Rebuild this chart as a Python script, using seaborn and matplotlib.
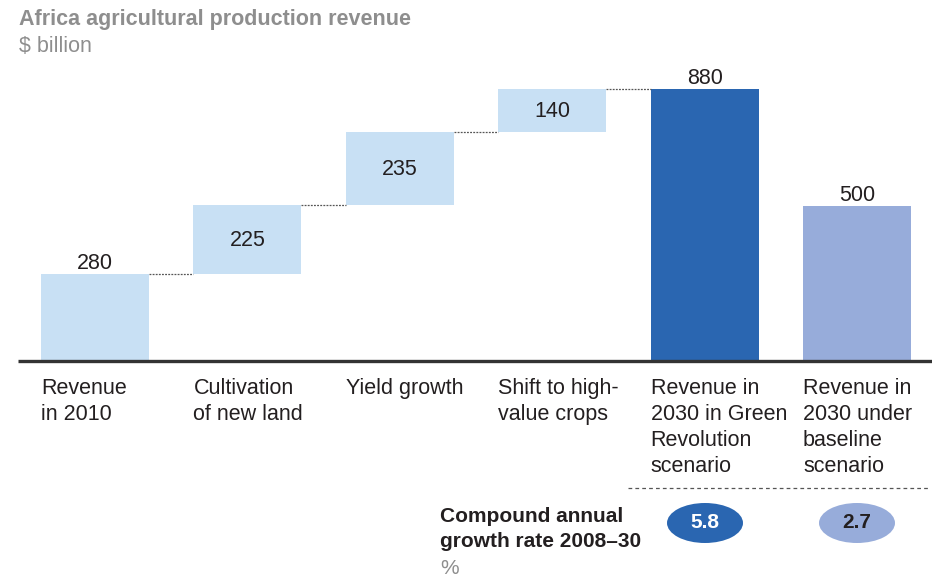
import numpy as np
import pandas as pd
import seaborn as sns
import matplotlib.pyplot as plt
from matplotlib.patches import Ellipse

sns.set_theme(style="white")
plt.rcParams["font.family"] = ["Liberation Sans", "DejaVu Sans"]

# Waterfall data ($ billion)
categories = [
    "Revenue\nin 2010",
    "Cultivation\nof new land",
    "Yield growth",
    "Shift to high-\nvalue crops",
    "Revenue in\n2030 in Green\nRevolution\nscenario",
    "Revenue in\n2030 under\nbaseline\nscenario",
]
values = [280, 225, 235, 140, 880, 500]
kinds = ["total", "step", "step", "step", "total", "total"]
growth_labels = ["5.8", "2.7"]

# Bottoms of the floating bars are the running total
bases = []
running = 0
for v, k in zip(values, kinds):
    if k == "step":
        bases.append(running)
        running += v
    else:
        bases.append(0)
        if running == 0:
            running = v
df = pd.DataFrame({"category": categories, "value": values, "base": bases})

LIGHT = "#c8e0f4"
DARK = "#2a66b1"
PERI = "#97acda"
INK = "#231f20"
GREY = "#8e8e8e"
bar_colors = [LIGHT, LIGHT, LIGHT, LIGHT, DARK, PERI]

W, H = 932, 579
fig = plt.figure(figsize=(W / 100, H / 100), dpi=100)
ax = fig.add_axes([0, 0, 1, 1])

# pixel geometry of the plot
X0, DX = 95.0, 152.4          # centre of first bar, spacing
Y0, SY = 361.0, 272.0 / 880   # baseline row, pixels per $ billion
BW = 108 / DX                 # bar width in category units


def fx(px):
    return px / W


def fy(py):
    return 1 - py / H


sns.barplot(data=df, x="category", y="value", bottom=df["base"].values,
            width=BW, ax=ax, order=categories, color=LIGHT,
            edgecolor="none", linewidth=0, saturation=1)
for patch, c in zip(ax.patches, bar_colors):
    patch.set_facecolor(c)

ax.set_xlim(-X0 / DX, (W - X0) / DX)
ax.set_ylim((Y0 - H) / SY, Y0 / SY)
ax.axis("off")

# baseline
ax.plot([(18 - X0) / DX, (W - X0) / DX], [0, 0], color="#333333", lw=2.4,
        solid_capstyle="butt", zorder=3)

# dotted connectors between consecutive bars
for i in range(4):
    level = bases[i] + values[i]
    ax.plot([i + BW / 2, i + 1 - BW / 2], [level, level], color="#555555",
            lw=0.9, ls=(0, (1.5, 1)), zorder=3)

# value labels
for i, (v, b, k) in enumerate(zip(values, bases, kinds)):
    if k == "step":
        ax.text(i, b + v / 2 - 1 / SY, f"{v}", ha="center", va="center",
                fontsize=15.5, color=INK)
    else:
        ax.text(i, v + 11 / SY, f"{v}", ha="center", va="center",
                fontsize=15.5, color=INK)

# category labels
for i, lab in enumerate(categories):
    ax.text(i - BW / 2, -(378 - Y0) / SY, lab, ha="left", va="top",
            fontsize=15.5, color=INK, linespacing=1.32)

# headings
fig.text(fx(19), fy(20), "Africa agricultural production revenue",
         ha="left", va="center", fontsize=15.5, fontweight="bold", color=GREY)
fig.text(fx(19), fy(46), "$ billion", ha="left", va="center",
         fontsize=15.5, color=GREY)

# growth-rate section
fig.add_artist(plt.Line2D([fx(628), fx(928)], [fy(488), fy(488)],
                          color="#555555", lw=0.9, ls=(0, (3, 2.5))))
fig.text(fx(440), fy(507), "Compound annual\ngrowth rate 2008\u201330",
         ha="left", va="top", fontsize=15, fontweight="bold", color=INK,
         linespacing=1.42)
fig.text(fx(440), fy(568), "%", ha="left", va="center", fontsize=15,
         color=GREY)

for cx, lab, fc, tc in zip([705, 857], growth_labels, [DARK, PERI],
                           ["white", INK]):
    fig.add_artist(Ellipse((fx(cx), fy(523)), 76 / W, 40 / H,
                           transform=fig.transFigure, facecolor=fc,
                           edgecolor="none"))
    fig.text(fx(cx), fy(523), lab, ha="center", va="center", fontsize=15,
             fontweight="bold", color=tc)

fig.savefig("out.png", dpi=100)
